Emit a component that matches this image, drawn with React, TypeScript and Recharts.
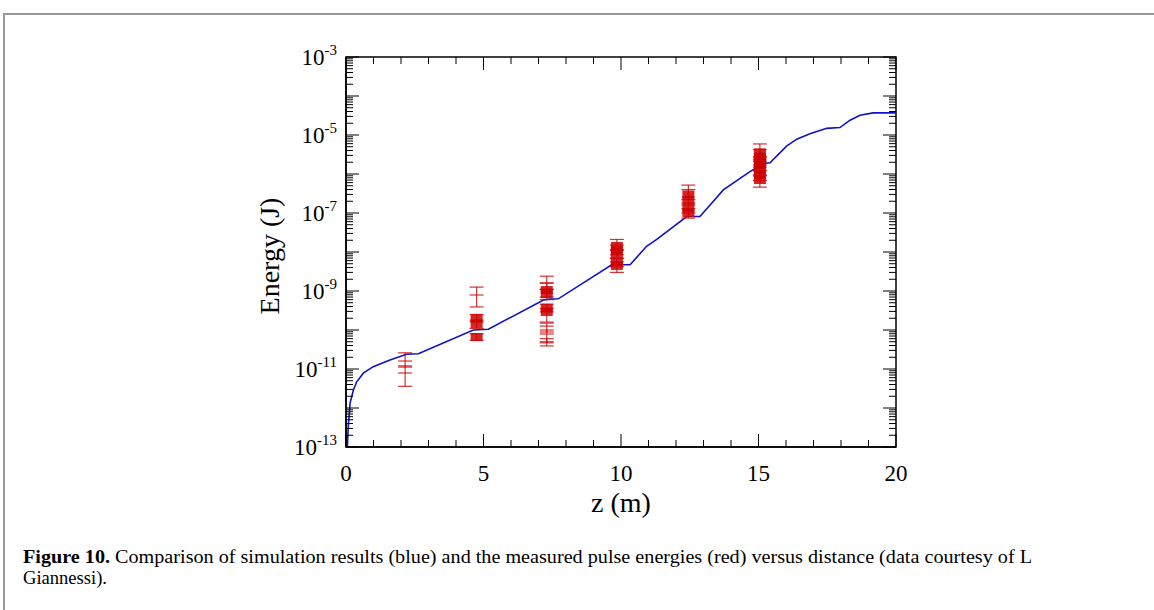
import React from 'react';
import { ComposedChart, Line, Scatter, ErrorBar, XAxis, YAxis, ReferenceArea } from 'recharts';

// simulated pulse energy along the undulator (z in m, energy in J)
const simZ = [0.05, 0.08, 0.15, 0.27, 0.39, 0.63, 0.99, 1.6, 2.2, 2.63, 4.63, 5.18, 7.18, 7.42, 7.72, 9.66, 10.33, 10.93, 11.3, 12.39, 12.87, 13.36, 13.72, 14.69, 15.18, 15.42, 16.02, 16.39, 16.87, 17.48, 17.96, 18.33, 18.69, 19.17, 20];
const simE = [1e-13, 3.2e-13, 1.35e-12, 2.9e-12, 4.7e-12, 7.8e-12, 1.15e-11, 1.7e-11, 2.4e-11, 2.45e-11, 1.0e-10, 1.05e-10, 5.9e-10, 6.2e-10, 6.3e-10, 4.7e-9, 4.7e-9, 1.4e-8, 2.1e-8, 8.1e-8, 8.1e-8, 2.0e-7, 3.9e-7, 1.15e-6, 1.86e-6, 1.95e-6, 5.2e-6, 7.8e-6, 1.07e-5, 1.48e-5, 1.55e-5, 2.4e-5, 3.2e-5, 3.7e-5, 3.7e-5];

// measured energies, drawn as filled marks
const measZ = [4.75, 4.75, 4.75, 7.3, 7.3, 7.3, 7.3, 9.85, 9.85, 9.85, 9.85, 9.85, 12.45, 12.45, 12.45, 12.45, 15.05, 15.05, 15.05, 15.05, 15.05, 15.05, 15.05];
const measE = [2.0e-10, 1.43e-10, 6.6e-11, 1.06e-9, 8.3e-10, 3.7e-10, 2.9e-10, 1.43e-8, 1.12e-8, 8.9e-9, 5.5e-9, 4.4e-9, 3.0e-7, 2.15e-7, 1.35e-7, 1.0e-7, 3.6e-6, 2.8e-6, 2.04e-6, 1.7e-6, 1.27e-6, 9.3e-7, 7.0e-7];
const measLo = [1.6e-10, 1.1e-10, 5.4e-11, 7e-10, 6e-10, 2.9e-10, 1.6e-10, 1.1e-8, 8.5e-9, 6.8e-9, 4.2e-9, 3.0e-9, 2.2e-7, 1.6e-7, 1.0e-7, 7.4e-8, 2.6e-6, 2.1e-6, 1.5e-6, 1.2e-6, 9e-7, 6.8e-7, 4.6e-7];
const measHi = [2.5e-10, 1.8e-10, 8.0e-11, 1.6e-9, 1.1e-9, 4.6e-10, 3.6e-10, 2.1e-8, 1.5e-8, 1.15e-8, 7e-9, 5.6e-9, 5.2e-7, 4.0e-7, 1.8e-7, 1.3e-7, 5.9e-6, 4.2e-6, 2.8e-6, 2.3e-6, 1.7e-6, 1.25e-6, 9.5e-7];

// measured energies shown only with error bars
const openZ = [2.15, 2.15, 4.75, 7.3, 7.3, 7.3, 7.3];
const openE = [1.6e-11, 7.9e-12, 7.9e-10, 1.6e-9, 1.26e-10, 7.9e-11, 5e-11];
const openLo = [1.12e-11, 3.6e-12, 3.9e-10, 1.1e-9, 8.9e-11, 4.7e-11, 3.9e-11];
const openHi = [2.6e-11, 1.2e-11, 1.26e-9, 2.4e-9, 1.5e-10, 1.0e-10, 6e-11];

const xTicks = [0, 1, 2, 3, 4, 5, 6, 7, 8, 9, 10, 11, 12, 13, 14, 15, 16, 17, 18, 19, 20];
const decades = [-13, -12, -11, -10, -9, -8, -7, -6, -5, -4, -3];
const mantissas = [1, 2, 3, 4, 5, 6, 7, 8, 9];

const curve = simZ.map((z, i) => ({ z, e: simE[i] }));
const measured = measZ.map((z, i) => ({ z, e: measE[i], lo: measLo[i], hi: measHi[i] }));
const openMeasured = openZ.map((z, i) => ({ z, e: openE[i], lo: openLo[i], hi: openHi[i] }));

const yTicks: number[] = [];
decades.forEach((d) => {
  mantissas.forEach((m) => {
    if (d < -3 || m === 1) yTicks.push(m * Math.pow(10, d));
  });
});

const W = 1154;
const H = 610;
const PLOT_W = 550;
const PLOT_H = 390;
const SERIF = "'Liberation Serif', 'Times New Roman', 'DejaVu Serif', serif";
const RED = '#cc0000';
const BLUE = '#1010cc';

const errRange = (d: any) => [d.e - d.lo, d.hi - d.e];

const XTick = (props: any) => {
  const { x, y, payload } = props;
  const major = payload.value % 5 === 0;
  const len = major ? 13 : 7;
  return (
    <g>
      <line x1={x} x2={x} y1={y} y2={y - len} stroke="#000" strokeWidth={1} />
      <line x1={x} x2={x} y1={y - PLOT_H} y2={y - PLOT_H + len} stroke="#000" strokeWidth={1} />
      {major && (
        <text x={x} y={y + 34} textAnchor="middle" fontSize={23} fontFamily={SERIF} fill="#000">
          {payload.value}
        </text>
      )}
    </g>
  );
};

const YTick = (props: any) => {
  const { x, y, payload } = props;
  const lg = Math.log10(payload.value);
  const exp = Math.round(lg);
  const major = Math.abs(lg - exp) < 1e-6;
  const len = major ? 13 : 7;
  return (
    <g>
      <line x1={x} x2={x + len} y1={y} y2={y} stroke="#000" strokeWidth={1} />
      <line x1={x + PLOT_W} x2={x + PLOT_W - len} y1={y} y2={y} stroke="#000" strokeWidth={1} />
      {major && exp % 2 !== 0 && (
        <text x={x - 9} y={y + 8} textAnchor="end" fontSize={23} fontFamily={SERIF} fill="#000">
          10
          <tspan dy={-10} fontSize={15}>
            {String(exp)}
          </tspan>
        </text>
      )}
    </g>
  );
};

const FilledMark = (props: any) => {
  const { cx, cy } = props;
  if (cx == null || cy == null) return <g />;
  return <rect x={cx - 6} y={cy - 4} width={12} height={8} fill={RED} fillOpacity={0.85} />;
};

const DashMark = (props: any) => {
  const { cx, cy } = props;
  if (cx == null || cy == null) return <g />;
  return <line x1={cx - 7} x2={cx + 7} y1={cy} y2={cy} stroke={RED} strokeOpacity={0.8} strokeWidth={1.2} />;
};

export default function App() {
  return (
    <div style={{ position: 'absolute', left: 0, top: 0, width: W, height: H, background: '#fff', overflow: 'hidden' }}>
      <div
        style={{
          position: 'absolute',
          left: 3,
          top: 13,
          width: W + 20,
          height: H + 20,
          borderLeft: '2px solid #999',
          borderTop: '2px solid #999',
        }}
      />
      <div style={{ position: 'absolute', left: 0, top: 0 }}>
        <ComposedChart width={W} height={H} margin={{ top: 57, right: 258, bottom: 123, left: 286 }}>
          <XAxis
            type="number"
            dataKey="z"
            domain={[0, 20]}
            ticks={xTicks}
            interval={0}
            height={40}
            tickSize={0}
            tickMargin={0}
            tick={<XTick />}
            axisLine={{ stroke: '#000', strokeWidth: 1.5 }}
            allowDataOverflow
          />
          <YAxis
            type="number"
            dataKey="e"
            scale="log"
            domain={[1e-13, 1e-3]}
            ticks={yTicks}
            interval={0}
            width={60}
            tickSize={0}
            tickMargin={0}
            tick={<YTick />}
            axisLine={{ stroke: '#000', strokeWidth: 1.5 }}
            allowDataOverflow
          />
          <ReferenceArea x1={0} x2={20} y1={1e-13} y2={1e-3} fill="none" stroke="#000" strokeWidth={1.5} ifOverflow="visible" />
          <Line
            data={curve}
            dataKey="e"
            type="linear"
            stroke={BLUE}
            strokeWidth={1.6}
            dot={false}
            activeDot={false}
            isAnimationActive={false}
          />
          <Scatter data={openMeasured} dataKey="e" shape={<DashMark />} isAnimationActive={false}>
            <ErrorBar dataKey={errRange} direction="y" width={7} stroke={RED} strokeOpacity={0.8} strokeWidth={1.2} isAnimationActive={false} />
          </Scatter>
          <Scatter data={measured} dataKey="e" shape={<FilledMark />} isAnimationActive={false}>
            <ErrorBar dataKey={errRange} direction="y" width={7} stroke={RED} strokeOpacity={0.8} strokeWidth={1.2} isAnimationActive={false} />
          </Scatter>
        </ComposedChart>
      </div>
      <div
        style={{
          position: 'absolute',
          left: 270,
          top: 256,
          transform: 'translate(-50%, -50%) rotate(-90deg)',
          fontFamily: SERIF,
          fontSize: 28,
          whiteSpace: 'nowrap',
        }}
      >
        Energy (J)
      </div>
      <div
        style={{
          position: 'absolute',
          left: 621,
          top: 503,
          transform: 'translate(-50%, -50%)',
          fontFamily: SERIF,
          fontSize: 28,
          whiteSpace: 'nowrap',
        }}
      >
        z (m)
      </div>
      <svg style={{ position: 'absolute', left: 0, top: 0 }} width={W} height={H}>
        <text x={23} y={563} fontSize={18} fontFamily={SERIF} fill="#000" textLength={1009} lengthAdjust="spacingAndGlyphs">
          <tspan fontWeight="bold">Figure 10.</tspan> Comparison of simulation results (blue) and the measured pulse energies (red) versus distance (data courtesy of L
        </text>
        <text x={23} y={584} fontSize={18} fontFamily={SERIF} fill="#000" textLength={84} lengthAdjust="spacingAndGlyphs">
          Giannessi).
        </text>
      </svg>
    </div>
  );
}
